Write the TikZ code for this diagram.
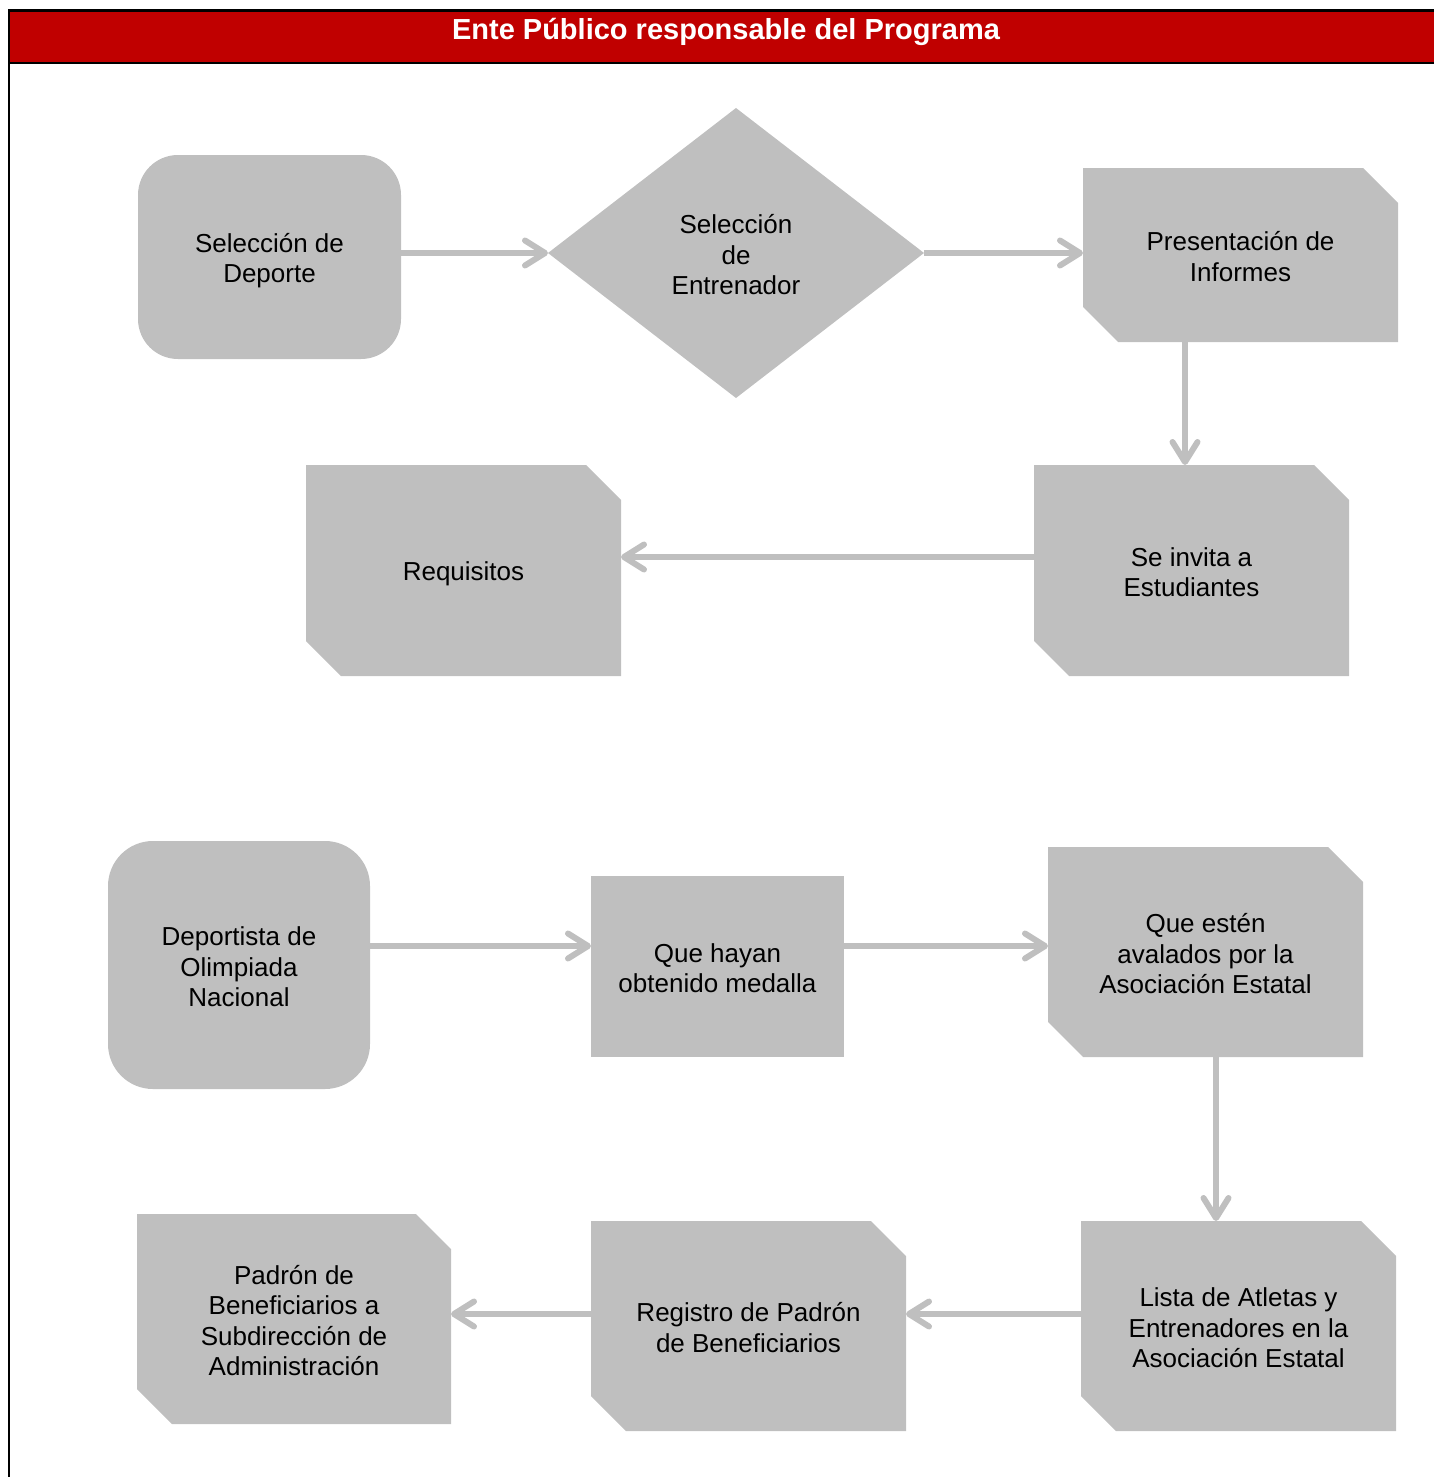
\documentclass[tikz,border=0pt]{standalone}
\usepackage{fontspec}
\setmainfont{Liberation Sans}
\usetikzlibrary{arrows.meta}
\definecolor{boxgray}{HTML}{BFBFBF}
\definecolor{hdrred}{HTML}{C00000}
\newcommand\linetop{\rule{0pt}{26pt}}
\newcommand\linebot{\rule[-4pt]{0pt}{4pt}}
\tikzset{
  lbl/.style={inner sep=0pt, outer sep=0pt, align=center,
    font=\fontsize{26}{30.5}\selectfont, text=black},
  txt/.style={label={[lbl]center:{\linetop #1\linebot}}},
  box/.style={rectangle, inner sep=0pt, outer sep=0pt},
  roundbox/.style={box, fill=boxgray, rounded corners=40pt},
  plainbox/.style={box, fill=boxgray},
  snipbox/.style={box, path picture={
    \fill[boxgray] (path picture bounding box.north west)
      -- ([xshift=-35pt]path picture bounding box.north east)
      -- ([yshift=-35pt]path picture bounding box.north east)
      -- (path picture bounding box.south east)
      -- ([xshift=35pt]path picture bounding box.south west)
      -- ([yshift=35pt]path picture bounding box.south west) -- cycle;}},
  diabox/.style={box, path picture={
    \fill[boxgray] (path picture bounding box.north)
      -- (path picture bounding box.east)
      -- (path picture bounding box.south)
      -- (path picture bounding box.west) -- cycle;}},
  flow/.style={draw=boxgray, line width=6pt,
    -{Straight Barb[length=20pt,width=25pt,line width=6pt,round]}},
}
\begin{document}
\begin{tikzpicture}[x=1pt,y=-1pt]
\useasboundingbox (0,0) rectangle (1434,1477);
% frame and header
\fill[hdrred] (8,10) rectangle (1434,63);
\draw[line width=2.5pt] (8,10.5) -- (1434,10.5);
\draw[line width=2.5pt] (8,63) -- (1434,63);
\draw[line width=2pt] (9,10) -- (9,1477);
\node[font=\bfseries\fontsize{29}{32}\selectfont, text=white, inner sep=0pt, anchor=base] (hdr) at (726,39.5) {Ente Público responsable del Programa};

% upper flow
\node[roundbox, minimum width=263pt, minimum height=204pt, txt={Selección de\\Deporte}] (dep) at (269.5,257) {};
\node[diabox, minimum width=376pt, minimum height=290pt, txt={Selección\\de\\Entrenador}] (dia) at (736,253) {};
\node[snipbox, minimum width=315pt, minimum height=174pt, txt={Presentación de\\Informes}] (pres) at (1240.5,255) {};
\node[snipbox, minimum width=315pt, minimum height=211pt, txt={Se invita a\\Estudiantes}] (inv) at (1191.5,570.5) {};
\node[snipbox, minimum width=315pt, minimum height=211pt, txt={Requisitos}] (req) at (463.5,570.5) {};

\draw[flow] (dep.east |- dia.west) -- (dia.west);
\draw[flow] (dia.east) -- (dia.east -| pres.west);
\draw[flow] ([xshift=-55.5pt]pres.south) -- ([xshift=-55.5pt]pres.south |- inv.north);
\draw[flow] ([yshift=13.5pt]inv.west) -- ([yshift=13.5pt]inv.west -| req.east);

% lower flow
\node[roundbox, rounded corners=45pt, minimum width=262pt, minimum height=248pt, txt={Deportista de\\Olimpiada\\Nacional}] (olim) at (239,965) {};
\node[plainbox, minimum width=253pt, minimum height=181pt, txt={Que hayan\\obtenido medalla}] (med) at (717.5,966.5) {};
\node[snipbox, minimum width=315pt, minimum height=210pt, txt={Que estén\\avalados por la\\Asociación Estatal}] (aval) at (1205.5,952) {};
\node[snipbox, minimum width=315pt, minimum height=210pt, txt={Lista de Atletas y\\Entrenadores en la\\Asociación Estatal}] (lista) at (1238.5,1326) {};
\node[snipbox, minimum width=315pt, minimum height=210pt, txt={Registro de Padrón\\de Beneficiarios}] (reg) at (748.5,1326) {};
\node[snipbox, minimum width=314pt, minimum height=210pt, txt={Padrón de\\Beneficiarios a\\Subdirección de\\Administración}] (padr) at (294,1319) {};

\draw[flow] ([yshift=19pt]olim.east) -- ([yshift=19pt]olim.east -| med.west);
\draw[flow] ([yshift=20.5pt]med.east) -- ([yshift=20.5pt]med.east -| aval.west);
\draw[flow] ([xshift=10.5pt]aval.south) -- ([xshift=10.5pt]aval.south |- lista.north);
\draw[flow] ([yshift=12pt]lista.west) -- ([yshift=12pt]lista.west -| reg.east);
\draw[flow] ([yshift=12pt]reg.west) -- ([yshift=12pt]reg.west -| padr.east);
\end{tikzpicture}
\end{document}
